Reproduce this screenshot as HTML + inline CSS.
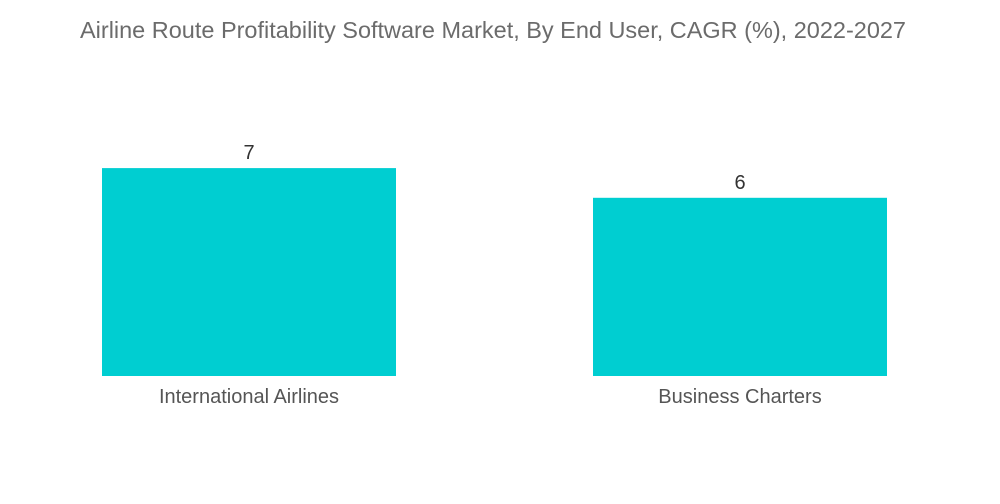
<!DOCTYPE html>
<html><head><meta charset="utf-8"><style>
html,body{margin:0;padding:0;background:#fff;}
svg{display:block;font-family:"Liberation Sans",sans-serif;}
</style></head><body>
<svg id="chart" width="1000" height="504">
<text x="493" y="38" text-anchor="middle" font-size="23.5" fill="#6b6b6b" textLength="826" lengthAdjust="spacingAndGlyphs">Airline Route Profitability Software Market, By End User, CAGR (%), 2022-2027</text>
<g id="bars"></g>
</svg>
<script>
const categories = ["International Airlines", "Business Charters"];
const values = [7, 6];
const valueLabels = ["7", "6"];

const baseY = 376, pxPerUnit = 29.7;
const barLeft = [102, 593], barW = 294;
function yScale(v){ return baseY - v * pxPerUnit; }
function xScale(i){ return barLeft[0] + i * (barLeft[1] - barLeft[0]); }
const g = document.getElementById('bars');
const NS = 'http://www.w3.org/2000/svg';
categories.forEach((c, i) => {
  const x = xScale(i), y = yScale(values[i]);
  const r = document.createElementNS(NS, 'rect');
  r.setAttribute('x', x); r.setAttribute('y', y);
  r.setAttribute('width', barW); r.setAttribute('height', baseY - y);
  r.setAttribute('fill', '#00CED1');
  
  
  g.appendChild(r);
  const t = document.createElementNS(NS, 'text');
  t.setAttribute('x', x + barW / 2); t.setAttribute('y', y - 9);
  t.setAttribute('text-anchor', 'middle'); t.setAttribute('font-size', '20');
  t.setAttribute('fill', '#333');
  t.textContent = valueLabels[i];
  
  
  g.appendChild(t);
  const l = document.createElementNS(NS, 'text');
  l.setAttribute('x', x + barW / 2); l.setAttribute('y', 403);
  l.setAttribute('text-anchor', 'middle'); l.setAttribute('font-size', '20');
  l.setAttribute('fill', '#555');
  l.textContent = c;
  
  
  g.appendChild(l);
});
</script>
</body></html>
